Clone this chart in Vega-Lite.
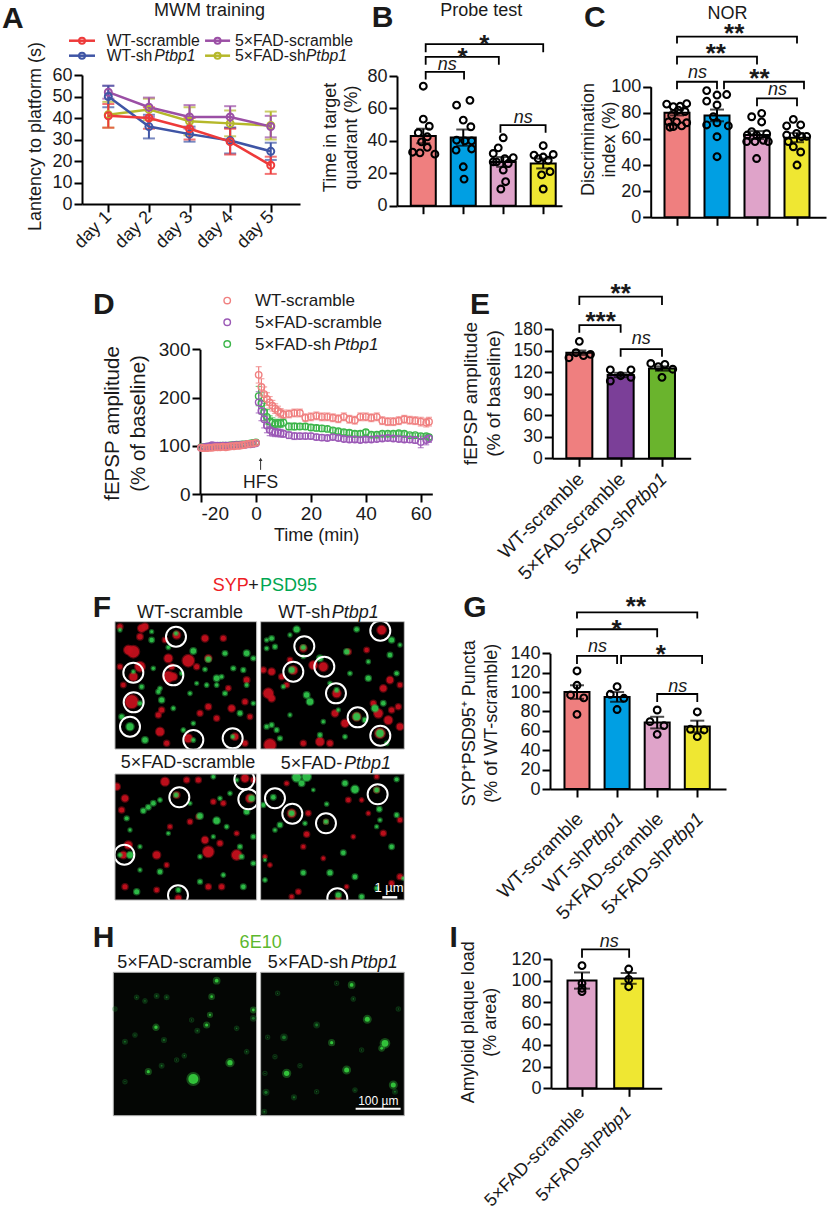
{"$schema":"https://vega.github.io/schema/vega-lite/v6.json","width":828,"height":1213,"padding":0,"autosize":{"type":"none"},"background":"white",
"config":{"view":{"stroke":null},"axis":{"grid":false,"domainColor":"black","domainWidth":2,"tickColor":"black","tickWidth":2,"tickSize":8,"labelColor":"#1a1a1a","labelFont":"Liberation Sans","labelFontSize":18,"labelPadding":2,"labelOverlap":false,"labelBound":false,"titleFont":"Liberation Sans","titleFontWeight":"normal","titleFontSize":18,"titleColor":"#1a1a1a","titleLineHeight":22},"text":{"font":"Liberation Sans","baseline":"alphabetic","align":"left","color":"#1a1a1a","fontSize":18}},
"resolve":{"scale":{"x":"independent","y":"independent","color":"independent","size":"independent","stroke":"independent"},"axis":{"x":"independent","y":"independent"}},
"datasets":{
"aS":[{"g":"O","x":1,"y":41.5,"e":6},{"g":"O","x":2,"y":44,"e":5},{"g":"O","x":3,"y":38.5,"e":6.5},{"g":"O","x":4,"y":37.5,"e":6},{"g":"O","x":5,"y":36.5,"e":6.5},{"g":"P","x":1,"y":52,"e":3},{"g":"P","x":2,"y":45,"e":4.5},{"g":"P","x":3,"y":40.5,"e":5.5},{"g":"P","x":4,"y":40.5,"e":5},{"g":"P","x":5,"y":36,"e":5},{"g":"B","x":1,"y":50,"e":5},{"g":"B","x":2,"y":36,"e":5.5},{"g":"B","x":3,"y":32.5,"e":3.5},{"g":"B","x":4,"y":29.5,"e":6},{"g":"B","x":5,"y":24.5,"e":4},{"g":"R","x":1,"y":41,"e":5.5},{"g":"R","x":2,"y":40,"e":5},{"g":"R","x":3,"y":35,"e":5},{"g":"R","x":4,"y":29,"e":6},{"g":"R","x":5,"y":18,"e":4}],
"aLL":[{"g":"R","x":0.032,"y":75.95},{"g":"R","x":0.672,"y":75.95},{"g":"B","x":0.032,"y":68.98},{"g":"B","x":0.672,"y":68.98},{"g":"P","x":3.382,"y":75.95},{"g":"P","x":3.998,"y":75.95},{"g":"O","x":3.382,"y":68.98},{"g":"O","x":3.998,"y":68.98}],
"aLP":[{"g":"R","x":0.352,"y":75.95},{"g":"B","x":0.352,"y":68.98},{"g":"P","x":3.69,"y":75.95},{"g":"O","x":3.69,"y":68.98}],
"aLT":[{"x":0.96,"y":73.6,"t":"WT-scramble"},{"x":0.96,"y":66.3,"t":"WT-sh"},{"x":4.12,"y":73.4,"t":"5×FAD-scramble"},{"x":4.12,"y":66.5,"t":"5×FAD-sh"}],
"aLI":[{"x":2.133,"y":66.3,"t":"Ptbp1"},{"x":5.862,"y":66.5,"t":"Ptbp1"}],
"aT":[{"x":3.49,"y":87.6,"t":"MWM training"}],"aL":[{"x":-1.618,"y":81.9,"t":"A"}],
"bB":[{"x":1,"y":43,"e":4.5,"g":"a"},{"x":2,"y":42,"e":5,"g":"b"},{"x":3,"y":27,"e":3,"g":"c"},{"x":4,"y":26,"e":3,"g":"d"}],
"bD":[{"x":1,"y":73.7},{"x":1,"y":53.4},{"x":1.15,"y":49},{"x":0.875,"y":45},{"x":1.1,"y":42.5},{"x":0.958,"y":39.4},{"x":0.733,"y":33},{"x":0.917,"y":32.6},{"x":1.1,"y":36},{"x":1.29,"y":31.8},{"x":2.167,"y":65},{"x":1.833,"y":62},{"x":2,"y":52.8},{"x":2.19,"y":48.7},{"x":1.833,"y":40.4},{"x":2.04,"y":40},{"x":2.21,"y":40},{"x":1.82,"y":34.3},{"x":2.21,"y":35},{"x":2,"y":24},{"x":2.02,"y":16.4},{"x":3,"y":41.9},{"x":2.875,"y":35.7},{"x":2.75,"y":32.2},{"x":3.25,"y":29.6},{"x":3.04,"y":29},{"x":2.83,"y":27},{"x":3.125,"y":26},{"x":3,"y":22},{"x":3.06,"y":14.8},{"x":2.94,"y":10.3},{"x":2.75,"y":27},{"x":4,"y":37},{"x":3.77,"y":31.2},{"x":4,"y":30},{"x":4.25,"y":31.6},{"x":4.125,"y":28},{"x":3.875,"y":29},{"x":4.17,"y":21},{"x":3.96,"y":19},{"x":4,"y":10.3}],
"bK":[{"b":1,"x":1.06,"y":77.8},{"b":1,"x":1.06,"y":82.5},{"b":1,"x":2.02,"y":82.5},{"b":1,"x":2.02,"y":77.8},{"b":2,"x":1.06,"y":87},{"b":2,"x":1.06,"y":91.8},{"b":2,"x":2.89,"y":91.8},{"b":2,"x":2.89,"y":87},{"b":3,"x":1.06,"y":94.7},{"b":3,"x":1.06,"y":99.6},{"b":3,"x":4,"y":99.6},{"b":3,"x":4,"y":94.7},{"b":4,"x":2.93,"y":45},{"b":4,"x":2.93,"y":49.7},{"b":4,"x":4.06,"y":49.7},{"b":4,"x":4.06,"y":45}],
"bN":[{"x":1.6,"y":83.6,"t":"ns"},{"x":3.5,"y":51,"t":"ns"}],"bS":[{"x":1.98,"y":86,"t":"*"},{"x":2.525,"y":94.2,"t":"*"}],
"bT":[{"x":2.45,"y":117.3,"t":"Probe test"}],"bL":[{"x":-0.29,"y":110.1,"t":"B"}],
"cB":[{"x":1,"y":80,"e":2,"g":"a"},{"x":2,"y":78,"e":4.5,"g":"b"},{"x":3,"y":63,"e":3,"g":"c"},{"x":4,"y":61,"e":3.5,"g":"d"}],
"cD":[{"x":0.742,"y":86.7},{"x":0.908,"y":84.7},{"x":1.075,"y":85},{"x":1.242,"y":87},{"x":0.867,"y":78},{"x":1.033,"y":82},{"x":1.2,"y":81},{"x":0.783,"y":73},{"x":0.99,"y":73},{"x":1.242,"y":72.4},{"x":0.908,"y":69.4},{"x":1.117,"y":70},{"x":0.825,"y":69},{"x":1.742,"y":97},{"x":2.242,"y":94},{"x":2,"y":93.6},{"x":1.742,"y":89},{"x":2,"y":86},{"x":1.908,"y":77},{"x":1.742,"y":70.7},{"x":2,"y":72.4},{"x":2.283,"y":70},{"x":2,"y":61.7},{"x":2,"y":46.4},{"x":3.117,"y":79.6},{"x":2.867,"y":77},{"x":3.117,"y":73},{"x":2.867,"y":65.6},{"x":3.242,"y":64},{"x":2.758,"y":63},{"x":2.99,"y":63},{"x":2.742,"y":58},{"x":2.95,"y":58},{"x":3.158,"y":59},{"x":3.283,"y":58},{"x":2.99,"y":45},{"x":3.908,"y":75},{"x":3.742,"y":70},{"x":4.092,"y":70.7},{"x":3.742,"y":63},{"x":3.99,"y":64.3},{"x":4.242,"y":62},{"x":4.117,"y":61.7},{"x":3.783,"y":58},{"x":3.908,"y":54},{"x":4.092,"y":50},{"x":4,"y":40}],
"cK":[{"b":1,"x":1,"y":98},{"b":1,"x":1,"y":103.8},{"b":1,"x":2,"y":103.8},{"b":1,"x":2,"y":98},{"b":2,"x":1,"y":117},{"b":2,"x":1,"y":123},{"b":2,"x":3,"y":123},{"b":2,"x":3,"y":117},{"b":3,"x":1,"y":133},{"b":3,"x":1,"y":138.3},{"b":3,"x":4,"y":138.3},{"b":3,"x":4,"y":133},{"b":4,"x":2.175,"y":98},{"b":4,"x":2.175,"y":103.8},{"b":4,"x":4.175,"y":103.8},{"b":4,"x":4.175,"y":98},{"b":5,"x":3,"y":85},{"b":5,"x":3,"y":91},{"b":5,"x":4,"y":91},{"b":5,"x":4,"y":85}],
"cN":[{"x":1.51,"y":107,"t":"ns"},{"x":3.51,"y":93.4,"t":"ns"}],"cS":[{"x":1.97,"y":119,"t":"**"},{"x":2.43,"y":134.5,"t":"**"},{"x":3.06,"y":100,"t":"**"}],
"cT":[{"x":2.26,"y":151.8,"t":"NOR"}],"cL":[{"x":-1.325,"y":145.4,"t":"C"}],
"dS":[
{"g":"G","x":-20,"y":97,"e":3},{"g":"G","x":-19,"y":97,"e":3},{"g":"G","x":-18,"y":98,"e":3},{"g":"G","x":-17,"y":98,"e":3},{"g":"G","x":-16,"y":99,"e":3},{"g":"G","x":-15,"y":99,"e":3},{"g":"G","x":-14,"y":99,"e":3},{"g":"G","x":-13,"y":100,"e":3},{"g":"G","x":-12,"y":100,"e":3},{"g":"G","x":-11,"y":100,"e":3},{"g":"G","x":-10,"y":100,"e":3},{"g":"G","x":-9,"y":101,"e":3},{"g":"G","x":-8,"y":101,"e":3},{"g":"G","x":-7,"y":102,"e":3},{"g":"G","x":-6,"y":102,"e":3},{"g":"G","x":-5,"y":103,"e":3},{"g":"G","x":-4,"y":103,"e":3},{"g":"G","x":-3,"y":104,"e":3},{"g":"G","x":-2,"y":105,"e":3},{"g":"G","x":-1,"y":106,"e":3},{"g":"G","x":0,"y":107,"e":4},{"g":"G","x":1,"y":203,"e":20},{"g":"G","x":2,"y":188,"e":22},{"g":"G","x":3,"y":170,"e":18},{"g":"G","x":4,"y":160,"e":15},{"g":"G","x":5,"y":150,"e":12},{"g":"G","x":6,"y":148,"e":10},{"g":"G","x":7,"y":145,"e":9},{"g":"G","x":8,"y":147,"e":8},{"g":"G","x":9,"y":146,"e":8},{"g":"G","x":10,"y":148,"e":7},{"g":"G","x":12,"y":140,"e":7},{"g":"G","x":14,"y":140,"e":7},{"g":"G","x":16,"y":140,"e":6},{"g":"G","x":18,"y":140,"e":6},{"g":"G","x":20,"y":138,"e":6},{"g":"G","x":22,"y":137,"e":6},{"g":"G","x":24,"y":136,"e":6},{"g":"G","x":26,"y":135,"e":5},{"g":"G","x":28,"y":132,"e":5},{"g":"G","x":30,"y":130,"e":5},{"g":"G","x":32,"y":128,"e":5},{"g":"G","x":34,"y":127,"e":5},{"g":"G","x":36,"y":125,"e":5},{"g":"G","x":38,"y":125,"e":5},{"g":"G","x":40,"y":128,"e":5},{"g":"G","x":42,"y":123,"e":4},{"g":"G","x":44,"y":123,"e":4},{"g":"G","x":46,"y":125,"e":4},{"g":"G","x":48,"y":125,"e":4},{"g":"G","x":50,"y":125,"e":4},{"g":"G","x":52,"y":126,"e":4},{"g":"G","x":54,"y":125,"e":4},{"g":"G","x":56,"y":122,"e":4},{"g":"G","x":58,"y":122,"e":4},{"g":"G","x":60,"y":120,"e":5},{"g":"G","x":62,"y":120,"e":5},{"g":"G","x":63,"y":118,"e":5},
{"g":"P","x":-20,"y":96,"e":3},{"g":"P","x":-19,"y":97,"e":3},{"g":"P","x":-18,"y":98,"e":3},{"g":"P","x":-17,"y":99,"e":3},{"g":"P","x":-16,"y":101,"e":3},{"g":"P","x":-15,"y":100,"e":3},{"g":"P","x":-14,"y":100,"e":3},{"g":"P","x":-13,"y":99,"e":3},{"g":"P","x":-12,"y":100,"e":3},{"g":"P","x":-11,"y":100,"e":3},{"g":"P","x":-10,"y":100,"e":3},{"g":"P","x":-9,"y":100,"e":3},{"g":"P","x":-8,"y":101,"e":3},{"g":"P","x":-7,"y":101,"e":3},{"g":"P","x":-6,"y":101,"e":3},{"g":"P","x":-5,"y":102,"e":3},{"g":"P","x":-4,"y":102,"e":3},{"g":"P","x":-3,"y":103,"e":3},{"g":"P","x":-2,"y":103,"e":3},{"g":"P","x":-1,"y":104,"e":3},{"g":"P","x":0,"y":105,"e":4},{"g":"P","x":1,"y":190,"e":22},{"g":"P","x":2,"y":172,"e":20},{"g":"P","x":3,"y":155,"e":18},{"g":"P","x":4,"y":142,"e":15},{"g":"P","x":5,"y":133,"e":12},{"g":"P","x":6,"y":130,"e":10},{"g":"P","x":7,"y":128,"e":9},{"g":"P","x":8,"y":127,"e":8},{"g":"P","x":9,"y":126,"e":8},{"g":"P","x":10,"y":125,"e":7},{"g":"P","x":12,"y":122,"e":7},{"g":"P","x":14,"y":120,"e":7},{"g":"P","x":16,"y":120,"e":6},{"g":"P","x":18,"y":120,"e":6},{"g":"P","x":20,"y":120,"e":6},{"g":"P","x":22,"y":118,"e":6},{"g":"P","x":24,"y":117,"e":6},{"g":"P","x":26,"y":116,"e":5},{"g":"P","x":28,"y":118,"e":5},{"g":"P","x":30,"y":116,"e":5},{"g":"P","x":32,"y":114,"e":5},{"g":"P","x":34,"y":113,"e":5},{"g":"P","x":36,"y":113,"e":5},{"g":"P","x":38,"y":112,"e":5},{"g":"P","x":40,"y":113,"e":5},{"g":"P","x":42,"y":113,"e":5},{"g":"P","x":44,"y":114,"e":5},{"g":"P","x":46,"y":115,"e":5},{"g":"P","x":48,"y":116,"e":5},{"g":"P","x":50,"y":115,"e":5},{"g":"P","x":52,"y":114,"e":5},{"g":"P","x":54,"y":113,"e":5},{"g":"P","x":56,"y":113,"e":6},{"g":"P","x":58,"y":112,"e":7},{"g":"P","x":60,"y":108,"e":12},{"g":"P","x":62,"y":112,"e":10},{"g":"P","x":63,"y":115,"e":8},
{"g":"W","x":-20,"y":96,"e":4},{"g":"W","x":-19,"y":95,"e":4},{"g":"W","x":-18,"y":95,"e":4},{"g":"W","x":-17,"y":96,"e":4},{"g":"W","x":-16,"y":96,"e":4},{"g":"W","x":-15,"y":97,"e":4},{"g":"W","x":-14,"y":97,"e":4},{"g":"W","x":-13,"y":97,"e":4},{"g":"W","x":-12,"y":98,"e":4},{"g":"W","x":-11,"y":97,"e":4},{"g":"W","x":-10,"y":98,"e":4},{"g":"W","x":-9,"y":99,"e":4},{"g":"W","x":-8,"y":99,"e":4},{"g":"W","x":-7,"y":100,"e":4},{"g":"W","x":-6,"y":100,"e":4},{"g":"W","x":-5,"y":101,"e":4},{"g":"W","x":-4,"y":102,"e":4},{"g":"W","x":-3,"y":104,"e":4},{"g":"W","x":-2,"y":104,"e":4},{"g":"W","x":-1,"y":105,"e":4},{"g":"W","x":0,"y":106,"e":4},{"g":"W","x":1,"y":247,"e":17},{"g":"W","x":2,"y":222,"e":17},{"g":"W","x":3,"y":207,"e":15},{"g":"W","x":4,"y":197,"e":13},{"g":"W","x":5,"y":190,"e":12},{"g":"W","x":6,"y":183,"e":11},{"g":"W","x":7,"y":177,"e":10},{"g":"W","x":8,"y":172,"e":10},{"g":"W","x":9,"y":168,"e":9},{"g":"W","x":10,"y":165,"e":9},{"g":"W","x":12,"y":166,"e":8},{"g":"W","x":14,"y":168,"e":8},{"g":"W","x":16,"y":168,"e":8},{"g":"W","x":18,"y":158,"e":8},{"g":"W","x":20,"y":160,"e":8},{"g":"W","x":22,"y":162,"e":8},{"g":"W","x":24,"y":160,"e":8},{"g":"W","x":26,"y":160,"e":8},{"g":"W","x":28,"y":158,"e":8},{"g":"W","x":30,"y":156,"e":8},{"g":"W","x":32,"y":160,"e":8},{"g":"W","x":34,"y":155,"e":8},{"g":"W","x":36,"y":153,"e":8},{"g":"W","x":38,"y":160,"e":8},{"g":"W","x":40,"y":160,"e":8},{"g":"W","x":42,"y":158,"e":8},{"g":"W","x":44,"y":160,"e":8},{"g":"W","x":46,"y":152,"e":8},{"g":"W","x":48,"y":150,"e":8},{"g":"W","x":50,"y":150,"e":8},{"g":"W","x":52,"y":152,"e":8},{"g":"W","x":54,"y":155,"e":8},{"g":"W","x":56,"y":153,"e":8},{"g":"W","x":58,"y":152,"e":8},{"g":"W","x":60,"y":150,"e":9},{"g":"W","x":62,"y":148,"e":9},{"g":"W","x":63,"y":150,"e":9}],
"dLP":[{"g":"W","x":-10.45,"y":401},{"g":"P","x":-10.45,"y":356},{"g":"G","x":-10.45,"y":311}],
"dLT":[{"x":-0.36,"y":390,"t":"WT-scramble"},{"x":-0.36,"y":344,"t":"5×FAD-scramble"},{"x":-0.36,"y":299.4,"t":"5×FAD-sh"}],
"dLI":[{"x":28.4,"y":299.4,"t":"Ptbp1"}],
"dH":[{"x":1.7,"y":11.8,"t":"HFS"}],"dA":[{"x":1.7,"y":50},{"x":1.7,"y":72}],"dAH":[{"x":1.7,"y":72}],
"dL":[{"x":-59.3,"y":372.8,"t":"D"}],
"eB":[{"x":1,"y":147,"e":3,"g":"a"},{"x":2,"y":116,"e":3,"g":"b"},{"x":3,"y":125,"e":3,"g":"c"}],
"eD":[{"x":1,"y":162.8},{"x":0.92,"y":147},{"x":0.75,"y":140},{"x":1.1,"y":143},{"x":1.27,"y":144.7},{"x":1.75,"y":123},{"x":2.25,"y":123},{"x":2,"y":115},{"x":1.75,"y":107.6},{"x":2.25,"y":112.7},{"x":2.73,"y":132},{"x":3.07,"y":130.8},{"x":2.91,"y":127.5},{"x":3.26,"y":124},{"x":3,"y":112.7}],
"eK":[{"b":1,"x":1,"y":174.9},{"b":1,"x":1,"y":185.5},{"b":1,"x":2,"y":185.5},{"b":1,"x":2,"y":174.9},{"b":2,"x":1,"y":213.4},{"b":2,"x":1,"y":225},{"b":2,"x":3,"y":225},{"b":2,"x":3,"y":213.4},{"b":3,"x":2,"y":141.5},{"b":3,"x":2,"y":152},{"b":3,"x":3,"y":152},{"b":3,"x":3,"y":141.5}],
"eN":[{"x":2.5,"y":159,"t":"ns"}],"eS":[{"x":1.516,"y":179,"t":"***"},{"x":2,"y":217,"t":"**"}],
"eL":[{"x":-1.646,"y":200.4,"t":"E"}],
"eP":[{"x":1.04,"y":-25,"t":"WT-scramble"},{"x":2.04,"y":-25,"t":"5×FAD-scramble"}],"eQ":[{"x":3.04,"y":-25,"t":"5×FAD-sh"}],"eR":[{"x":3.04,"y":-25,"t":"Ptbp1"}],
"gB":[{"x":1,"y":100,"e":7,"g":"a"},{"x":2,"y":95,"e":5,"g":"b"},{"x":3,"y":68.5,"e":6,"g":"c"},{"x":4,"y":64.5,"e":6,"g":"d"}],
"gD":[{"x":1,"y":121.8},{"x":1,"y":107},{"x":0.84,"y":97},{"x":1.17,"y":94},{"x":1,"y":77},{"x":2,"y":105.6},{"x":1.83,"y":97.7},{"x":2.17,"y":93.6},{"x":2,"y":82},{"x":3,"y":81.5},{"x":2.82,"y":69.5},{"x":3.17,"y":65.4},{"x":3,"y":56.4},{"x":4,"y":79.5},{"x":3.83,"y":61.6},{"x":4.17,"y":60.9},{"x":4,"y":54}],
"gK":[{"b":1,"x":1,"y":129},{"b":1,"x":1,"y":137.3},{"b":1,"x":2,"y":137.3},{"b":1,"x":2,"y":129},{"b":2,"x":1,"y":156.5},{"b":2,"x":1,"y":164.8},{"b":2,"x":3,"y":164.8},{"b":2,"x":3,"y":156.5},{"b":3,"x":1,"y":176},{"b":3,"x":1,"y":182.3},{"b":3,"x":4,"y":182.3},{"b":3,"x":4,"y":176},{"b":4,"x":2.1,"y":129},{"b":4,"x":2.1,"y":137.3},{"b":4,"x":4.12,"y":137.3},{"b":4,"x":4.12,"y":129},{"b":5,"x":3,"y":89.8},{"b":5,"x":3,"y":98},{"b":5,"x":4,"y":98},{"b":5,"x":4,"y":89.8}],
"gN":[{"x":1.51,"y":141,"t":"ns"},{"x":3.51,"y":100.4,"t":"ns"}],"gS":[{"x":1.99,"y":155.5,"t":"*"},{"x":2.47,"y":180,"t":"**"},{"x":3.09,"y":130.4,"t":"*"}],
"gL":[{"x":-1.835,"y":177.8,"t":"G"}],
"gP":[{"x":1.075,"y":-28,"t":"WT-scramble"},{"x":3.075,"y":-28,"t":"5×FAD-scramble"}],"gQ":[{"x":2.075,"y":-28,"t":"WT-sh"},{"x":4.075,"y":-28,"t":"5×FAD-sh"}],"gR":[{"x":2.075,"y":-28,"t":"Ptbp1"},{"x":4.075,"y":-28,"t":"Ptbp1"}],
"iB":[{"x":1,"y":100,"e":7.5,"g":"a"},{"x":2,"y":102,"e":5,"g":"b"}],
"iD":[{"x":1,"y":113.8},{"x":1,"y":97.4},{"x":1,"y":92.8},{"x":1,"y":89.7},{"x":2,"y":110.7},{"x":2,"y":101},{"x":2,"y":94.3}],
"iK":[{"b":1,"x":1,"y":121.2},{"b":1,"x":1,"y":129},{"b":1,"x":2.01,"y":129},{"b":1,"x":2.01,"y":121.2}],
"iN":[{"x":1.586,"y":130.8,"t":"ns"}],"iL":[{"x":-1.84,"y":131.4,"t":"I"}],
"iP":[{"x":1,"y":-20,"t":"5×FAD-scramble"}],"iQ":[{"x":2,"y":-20,"t":"5×FAD-sh"}],"iR":[{"x":2,"y":-20,"t":"Ptbp1"}],
"fR":[{"x":75,"x2":500,"y":155,"y2":537},{"x":512,"x2":943,"y":155,"y2":537},{"x":75,"x2":500,"y":612,"y2":990},{"x":512,"x2":943,"y":612,"y2":990}],
"fM":[{"x":40,"x2":970,"y":537,"y2":612},{"x":500,"x2":512,"y":130,"y2":1000},{"x":40,"x2":970,"y":990,"y2":1010},{"x":40,"x2":970,"y":130,"y2":155},{"x":943,"x2":970,"y":130,"y2":1010},{"x":40,"x2":75,"y":130,"y2":1010}],
"fP":[
{"x":130,"y":245,"c":"S","a":130},{"x":155,"y":175,"c":"S","a":50},{"x":115,"y":240,"c":"S","a":70},{"x":345,"y":205,"c":"S","a":40},{"x":400,"y":205,"c":"S","a":25},{"x":295,"y":272,"c":"S","a":130},{"x":235,"y":265,"c":"S","a":60},{"x":355,"y":265,"c":"S","a":40},{"x":320,"y":290,"c":"S","a":25},{"x":150,"y":290,"c":"S","a":90},{"x":130,"y":320,"c":"S","a":60},{"x":235,"y":320,"c":"S","a":110},{"x":125,"y":395,"c":"S","a":160},{"x":210,"y":485,"c":"S","a":60},{"x":355,"y":410,"c":"S","a":30},{"x":425,"y":415,"c":"S","a":40},{"x":330,"y":430,"c":"S","a":25},{"x":470,"y":330,"c":"S","a":30},{"x":465,"y":395,"c":"S","a":25},{"x":230,"y":520,"c":"S","a":25},{"x":150,"y":200,"c":"S","a":30},{"x":90,"y":170,"c":"S","a":25},{"x":225,"y":210,"c":"S","a":20},{"x":260,"y":195,"c":"S","a":50},{"x":295,"y":505,"c":"S","a":60},{"x":415,"y":355,"c":"S","a":20},{"x":380,"y":445,"c":"S","a":25},{"x":205,"y":435,"c":"S","a":25},{"x":100,"y":345,"c":"S","a":20},{"x":250,"y":320,"c":"S","a":50},{"x":435,"y":500,"c":"S","a":40},{"x":165,"y":170,"c":"S","a":40},{"x":465,"y":520,"c":"S","a":25},{"x":245,"y":290,"c":"S","a":25},{"x":90,"y":290,"c":"S","a":20},{"x":215,"y":420,"c":"S","a":25},{"x":480,"y":440,"c":"S","a":20},
{"x":875,"y":180,"c":"S","a":70},{"x":640,"y":235,"c":"S","a":40},{"x":700,"y":290,"c":"S","a":70},{"x":610,"y":300,"c":"S","a":60},{"x":670,"y":285,"c":"S","a":60},{"x":740,"y":370,"c":"S","a":60},{"x":535,"y":370,"c":"S","a":90},{"x":545,"y":385,"c":"S","a":40},{"x":575,"y":320,"c":"S","a":25},{"x":800,"y":440,"c":"S","a":60},{"x":735,"y":430,"c":"S","a":40},{"x":765,"y":460,"c":"S","a":50},{"x":865,"y":430,"c":"S","a":70},{"x":895,"y":450,"c":"S","a":60},{"x":870,"y":490,"c":"S","a":90},{"x":905,"y":420,"c":"S","a":25},{"x":540,"y":525,"c":"S","a":130},{"x":690,"y":515,"c":"S","a":60},{"x":720,"y":520,"c":"S","a":30},{"x":880,"y":355,"c":"S","a":40},{"x":900,"y":330,"c":"S","a":40},{"x":775,"y":245,"c":"S","a":25},{"x":830,"y":240,"c":"S","a":20},{"x":520,"y":300,"c":"S","a":25},{"x":600,"y":270,"c":"S","a":20},{"x":545,"y":305,"c":"S","a":40},{"x":640,"y":520,"c":"S","a":25},{"x":590,"y":345,"c":"S","a":20},{"x":930,"y":345,"c":"S","a":20},{"x":850,"y":400,"c":"S","a":25},{"x":925,"y":410,"c":"S","a":25},{"x":930,"y":470,"c":"S","a":40},
{"x":225,"y":635,"c":"S","a":60},{"x":290,"y":630,"c":"S","a":25},{"x":325,"y":630,"c":"S","a":25},{"x":465,"y":625,"c":"S","a":50},{"x":480,"y":685,"c":"S","a":60},{"x":80,"y":650,"c":"S","a":40},{"x":105,"y":685,"c":"S","a":40},{"x":260,"y":675,"c":"S","a":30},{"x":355,"y":845,"c":"S","a":110},{"x":440,"y":855,"c":"S","a":90},{"x":345,"y":810,"c":"S","a":40},{"x":390,"y":820,"c":"S","a":25},{"x":200,"y":855,"c":"S","a":50},{"x":100,"y":855,"c":"S","a":40},{"x":400,"y":700,"c":"S","a":20},{"x":370,"y":695,"c":"S","a":20},{"x":490,"y":630,"c":"S","a":20},{"x":105,"y":950,"c":"S","a":25},{"x":265,"y":985,"c":"S","a":30},{"x":395,"y":950,"c":"S","a":25},{"x":355,"y":950,"c":"S","a":25},{"x":240,"y":770,"c":"S","a":15},{"x":300,"y":755,"c":"S","a":20},{"x":440,"y":790,"c":"S","a":15},{"x":115,"y":825,"c":"S","a":50},{"x":200,"y":960,"c":"S","a":20},{"x":230,"y":885,"c":"S","a":15},{"x":95,"y":720,"c":"S","a":25},{"x":325,"y":740,"c":"S","a":15},
{"x":860,"y":660,"c":"S","a":25},{"x":605,"y":730,"c":"S","a":60},{"x":655,"y":730,"c":"S","a":20},{"x":708,"y":755,"c":"S","a":15},{"x":775,"y":690,"c":"S","a":20},{"x":650,"y":793,"c":"S","a":25},{"x":880,"y":790,"c":"S","a":25},{"x":930,"y":750,"c":"S","a":20},{"x":860,"y":620,"c":"S","a":15},{"x":590,"y":640,"c":"S","a":15},{"x":640,"y":830,"c":"S","a":15},{"x":525,"y":860,"c":"S","a":12},{"x":540,"y":885,"c":"S","a":12},{"x":930,"y":920,"c":"S","a":25},{"x":905,"y":940,"c":"S","a":20},{"x":745,"y":985,"c":"S","a":20},{"x":625,"y":965,"c":"S","a":20},{"x":605,"y":980,"c":"S","a":15},{"x":835,"y":730,"c":"S","a":12},{"x":815,"y":690,"c":"S","a":12},{"x":790,"y":800,"c":"S","a":12},{"x":700,"y":865,"c":"S","a":12},{"x":770,"y":950,"c":"S","a":12},
{"x":258,"y":190,"c":"G","a":12},{"x":185,"y":210,"c":"G","a":20},{"x":235,"y":232,"c":"G","a":12},{"x":310,"y":243,"c":"G","a":30},{"x":355,"y":268,"c":"G","a":25},{"x":405,"y":250,"c":"G","a":20},{"x":470,"y":250,"c":"G","a":30},{"x":460,"y":300,"c":"G","a":15},{"x":430,"y":295,"c":"G","a":15},{"x":380,"y":325,"c":"G","a":30},{"x":395,"y":320,"c":"G","a":12},{"x":345,"y":298,"c":"G","a":12},{"x":205,"y":365,"c":"G","a":15},{"x":215,"y":390,"c":"G","a":25},{"x":130,"y":305,"c":"G","a":8},{"x":155,"y":350,"c":"G","a":15},{"x":150,"y":400,"c":"G","a":15},{"x":120,"y":470,"c":"G","a":50},{"x":95,"y":440,"c":"G","a":20},{"x":165,"y":510,"c":"G","a":30},{"x":280,"y":480,"c":"G","a":12},{"x":310,"y":510,"c":"G","a":12},{"x":310,"y":460,"c":"G","a":10},{"x":428,"y":500,"c":"G","a":10},{"x":450,"y":430,"c":"G","a":20},{"x":490,"y":400,"c":"G","a":10},{"x":350,"y":345,"c":"G","a":12},{"x":380,"y":345,"c":"G","a":12},{"x":405,"y":370,"c":"G","a":15},{"x":300,"y":370,"c":"G","a":10},{"x":190,"y":295,"c":"G","a":10},{"x":210,"y":355,"c":"G","a":12},{"x":275,"y":310,"c":"G","a":10},{"x":470,"y":345,"c":"G","a":12},{"x":250,"y":415,"c":"G","a":12},{"x":320,"y":340,"c":"G","a":8},{"x":185,"y":185,"c":"G","a":8},{"x":90,"y":180,"c":"G","a":8},{"x":490,"y":265,"c":"G","a":15},
{"x":620,"y":178,"c":"G","a":35},{"x":800,"y":178,"c":"G","a":20},{"x":905,"y":210,"c":"G","a":25},{"x":545,"y":205,"c":"G","a":20},{"x":530,"y":235,"c":"G","a":12},{"x":555,"y":230,"c":"G","a":15},{"x":640,"y":232,"c":"G","a":20},{"x":690,"y":265,"c":"G","a":30},{"x":605,"y":300,"c":"G","a":30},{"x":770,"y":245,"c":"G","a":25},{"x":900,"y":255,"c":"G","a":20},{"x":920,"y":310,"c":"G","a":15},{"x":835,"y":325,"c":"G","a":25},{"x":780,"y":310,"c":"G","a":12},{"x":650,"y":375,"c":"G","a":30},{"x":660,"y":395,"c":"G","a":40},{"x":740,"y":360,"c":"G","a":15},{"x":800,"y":440,"c":"G","a":45},{"x":855,"y":415,"c":"G","a":40},{"x":880,"y":400,"c":"G","a":20},{"x":825,"y":450,"c":"G","a":20},{"x":870,"y":490,"c":"G","a":50},{"x":600,"y":435,"c":"G","a":8},{"x":530,"y":470,"c":"G","a":15},{"x":560,"y":480,"c":"G","a":15},{"x":545,"y":465,"c":"G","a":15},{"x":700,"y":455,"c":"G","a":10},{"x":690,"y":495,"c":"G","a":15},{"x":570,"y":505,"c":"G","a":15},{"x":890,"y":520,"c":"G","a":12},{"x":765,"y":500,"c":"G","a":12},{"x":640,"y":260,"c":"G","a":8},{"x":530,"y":210,"c":"G","a":10},{"x":600,"y":195,"c":"G","a":8},{"x":930,"y":225,"c":"G","a":8},{"x":745,"y":420,"c":"G","a":8},{"x":580,"y":350,"c":"G","a":10},{"x":835,"y":275,"c":"G","a":10},{"x":720,"y":340,"c":"G","a":10},
{"x":175,"y":712,"c":"G","a":20},{"x":190,"y":700,"c":"G","a":20},{"x":160,"y":722,"c":"G","a":20},{"x":210,"y":690,"c":"G","a":12},{"x":258,"y":675,"c":"G","a":15},{"x":330,"y":738,"c":"G","a":30},{"x":380,"y":752,"c":"G","a":40},{"x":410,"y":770,"c":"G","a":12},{"x":470,"y":725,"c":"G","a":25},{"x":390,"y":685,"c":"G","a":10},{"x":420,"y":670,"c":"G","a":10},{"x":370,"y":620,"c":"G","a":12},{"x":110,"y":745,"c":"G","a":15},{"x":120,"y":855,"c":"G","a":35},{"x":90,"y":855,"c":"G","a":12},{"x":485,"y":685,"c":"G","a":30},{"x":450,"y":830,"c":"G","a":15},{"x":455,"y":860,"c":"G","a":15},{"x":490,"y":880,"c":"G","a":15},{"x":490,"y":800,"c":"G","a":15},{"x":210,"y":905,"c":"G","a":20},{"x":140,"y":965,"c":"G","a":25},{"x":265,"y":960,"c":"G","a":15},{"x":330,"y":935,"c":"G","a":15},{"x":330,"y":860,"c":"G","a":10},{"x":400,"y":915,"c":"G","a":12},{"x":460,"y":950,"c":"G","a":20},{"x":120,"y":780,"c":"G","a":8},{"x":300,"y":700,"c":"G","a":8},{"x":235,"y":790,"c":"G","a":8},{"x":150,"y":830,"c":"G","a":8},{"x":150,"y":900,"c":"G","a":8},{"x":440,"y":630,"c":"G","a":10},{"x":370,"y":800,"c":"G","a":8},
{"x":620,"y":622,"c":"G","a":70},{"x":650,"y":620,"c":"G","a":70},{"x":635,"y":640,"c":"G","a":30},{"x":795,"y":658,"c":"G","a":50},{"x":765,"y":640,"c":"G","a":25},{"x":920,"y":628,"c":"G","a":15},{"x":860,"y":660,"c":"G","a":20},{"x":550,"y":682,"c":"G","a":20},{"x":605,"y":730,"c":"G","a":25},{"x":708,"y":755,"c":"G","a":15},{"x":710,"y":702,"c":"G","a":10},{"x":570,"y":765,"c":"G","a":20},{"x":645,"y":760,"c":"G","a":10},{"x":868,"y":718,"c":"G","a":20},{"x":920,"y":735,"c":"G","a":15},{"x":870,"y":750,"c":"G","a":10},{"x":520,"y":705,"c":"G","a":15},{"x":555,"y":780,"c":"G","a":10},{"x":905,"y":830,"c":"G","a":20},{"x":760,"y":848,"c":"G","a":20},{"x":720,"y":908,"c":"G","a":25},{"x":640,"y":908,"c":"G","a":20},{"x":795,"y":920,"c":"G","a":20},{"x":525,"y":930,"c":"G","a":12},{"x":745,"y":975,"c":"G","a":25},{"x":860,"y":955,"c":"G","a":12},{"x":815,"y":980,"c":"G","a":20},{"x":940,"y":925,"c":"G","a":8},{"x":860,"y":770,"c":"G","a":8},{"x":525,"y":870,"c":"G","a":6},{"x":670,"y":660,"c":"G","a":6}],
"fC":[{"x":258,"y":200},{"x":130,"y":308},{"x":250,"y":316},{"x":131,"y":397},{"x":120,"y":470},{"x":310,"y":510},{"x":428,"y":505},{"x":871,"y":182},{"x":643,"y":229},{"x":610,"y":305},{"x":703,"y":290},{"x":738,"y":370},{"x":803,"y":442},{"x":871,"y":497},{"x":463,"y":628},{"x":268,"y":682},{"x":475,"y":688},{"x":103,"y":854},{"x":264,"y":976},{"x":555,"y":685},{"x":607,"y":731},{"x":708,"y":760},{"x":863,"y":673},{"x":742,"y":985}],
"fT":[{"x":300,"y":145,"t":"WT-scramble"},{"x":294,"y":595,"t":"5×FAD-scramble"}],
"fA":[{"x":565,"y":145,"t":"WT-sh"},{"x":572,"y":597,"t":"5×FAD-"}],"fI":[{"x":725,"y":145,"t":"Ptbp1"},{"x":762,"y":597,"t":"Ptbp1"}],
"fRd":[{"x":368,"y":62,"t":"SYP"}],"fPl":[{"x":475,"y":62,"t":"+"}],"fGr":[{"x":510,"y":62,"t":"PSD95"}],
"fSc":[{"x":897,"y":965,"t":"1 µm"}],"fSb":[{"x":877,"y":982,"k":1},{"x":922,"y":982,"k":1}],"fL":[{"x":8,"y":140,"t":"F"}],
"hR":[{"x":70,"x2":500,"y":157,"y2":587},{"x":512,"x2":943,"y":157,"y2":587}],
"hP":[{"x":380,"y":182,"c":"b","a":14},{"x":365,"y":230,"c":"b","a":7},{"x":140,"y":232,"c":"d","a":3},{"x":200,"y":228,"c":"d","a":4},{"x":230,"y":232,"c":"d","a":4},{"x":165,"y":243,"c":"d","a":3},{"x":490,"y":270,"c":"b","a":8},{"x":490,"y":295,"c":"d","a":8},{"x":360,"y":285,"c":"b","a":5},{"x":350,"y":315,"c":"b","a":10},{"x":322,"y":332,"c":"d","a":4},{"x":305,"y":300,"c":"d","a":2},{"x":198,"y":322,"c":"b","a":12},{"x":222,"y":360,"c":"d","a":5},{"x":135,"y":345,"c":"d","a":3},{"x":105,"y":365,"c":"d","a":4},{"x":283,"y":407,"c":"d","a":3},{"x":260,"y":420,"c":"d","a":2},{"x":420,"y":428,"c":"b","a":28},{"x":175,"y":455,"c":"b","a":10},{"x":215,"y":437,"c":"d","a":4},{"x":310,"y":477,"c":"b","a":100},{"x":440,"y":325,"c":"d","a":3},{"x":470,"y":395,"c":"d","a":3},{"x":105,"y":485,"c":"d","a":2},{"x":75,"y":267,"c":"d","a":2},
{"x":785,"y":195,"c":"b","a":14},{"x":790,"y":237,"c":"d","a":3},{"x":563,"y":220,"c":"d","a":2},{"x":680,"y":315,"c":"d","a":8},{"x":832,"y":298,"c":"b","a":25},{"x":582,"y":352,"c":"d","a":14},{"x":533,"y":352,"c":"d","a":2},{"x":725,"y":368,"c":"b","a":10},{"x":885,"y":370,"c":"b","a":45},{"x":875,"y":385,"c":"b","a":8},{"x":770,"y":450,"c":"b","a":25},{"x":590,"y":460,"c":"b","a":28},{"x":910,"y":495,"c":"b","a":25},{"x":915,"y":515,"c":"d","a":4},{"x":525,"y":460,"c":"d","a":2},{"x":528,"y":517,"c":"d","a":10},{"x":612,"y":532,"c":"d","a":5},{"x":680,"y":515,"c":"d","a":2},{"x":795,"y":510,"c":"d","a":3},{"x":523,"y":575,"c":"d","a":4},{"x":925,"y":267,"c":"d","a":2},{"x":555,"y":410,"c":"d","a":2},{"x":630,"y":437,"c":"d","a":2},{"x":815,"y":390,"c":"d","a":2},{"x":740,"y":190,"c":"d","a":2}],
"hT":[{"x":82,"y":143,"t":"5×FAD-scramble"},{"x":533,"y":143,"t":"5×FAD-sh"}],"hI":[{"x":782,"y":143,"t":"Ptbp1"}],"hG":[{"x":512,"y":85,"t":"6E10"}],"hS":[{"x":865,"y":556,"t":"100 µm"}],"hB":[{"x":797,"y":566},{"x":932,"y":566}],"hL":[{"x":8,"y":80,"t":"H"}]
},
"layer":[
{"encoding":{"x":{"field":"x","type":"quantitative","scale":{"domain":[0.352,5.72],"range":[82,300]},"axis":{"orient":"bottom","offset":-1009,"values":[1,2,3,4,5],"labelExpr":"'day '+datum.value","labelAngle":-45,"labelAlign":"right","labelBaseline":"middle","title":null}},"y":{"field":"y","type":"quantitative","scale":{"domain":[0,60],"range":[204,75]},"axis":{"orient":"left","offset":-82,"values":[0,10,20,30,40,50,60],"title":"Lantency to platform (s)","titleX":-38,"titleY":136}}},
"layer":[
{"encoding":{"color":{"field":"g","type":"nominal","legend":null,"scale":{"domain":["O","P","B","R"],"range":["#b5b82a","#9b4fa5","#3f55a5","#ee3a3a"]}}},"layer":[
{"data":{"name":"aS"},"mark":{"type":"errorbar","ticks":{"size":12,"thickness":2},"rule":{"strokeWidth":2}},"encoding":{"yError":{"field":"e"}}},
{"data":{"name":"aS"},"mark":{"type":"line","strokeWidth":2.5}},
{"data":{"name":"aS"},"mark":{"type":"point","filled":false,"opacity":1,"size":49,"strokeWidth":2}},
{"data":{"name":"aLL"},"mark":{"type":"line","strokeWidth":2.5}},
{"data":{"name":"aLP"},"mark":{"type":"point","filled":false,"opacity":1,"size":36,"strokeWidth":2}}]},
{"data":{"name":"aLT"},"mark":{"type":"text","fontSize":15.8},"encoding":{"text":{"field":"t"}}},
{"data":{"name":"aLI"},"mark":{"type":"text","fontSize":15.8,"fontStyle":"italic"},"encoding":{"text":{"field":"t"}}},
{"data":{"name":"aT"},"mark":{"type":"text","align":"center","fontSize":18},"encoding":{"text":{"field":"t"}}},
{"data":{"name":"aL"},"mark":{"type":"text","fontSize":30,"fontWeight":"bold"},"encoding":{"text":{"field":"t"}}}]},
{"encoding":{"x":{"field":"x","type":"quantitative","scale":{"domain":[0.3425,4.47],"range":[397,562],"padding":0},"axis":{"orient":"bottom","offset":-1007.3,"values":[1,2,3,4],"labels":false,"title":null}},"y":{"field":"y","type":"quantitative","scale":{"domain":[0,80],"range":[205.7,76]},"axis":{"orient":"left","offset":-397,"values":[0,20,40,60,80],"title":["Time in target","quadrant (%)"],"titleLineHeight":21,"titleX":-58,"titleY":137}}},
"layer":[
{"data":{"name":"bB"},"mark":{"type":"bar","orient":"vertical","width":25,"stroke":"black","strokeWidth":2},"encoding":{"color":{"field":"g","type":"nominal","legend":null,"scale":{"domain":["a","b","c","d"],"range":["#ef7f7f","#009fe3","#dfa3c9","#efe732"]}}}},
{"data":{"name":"bB"},"mark":{"type":"errorbar","color":"black","ticks":{"size":14,"thickness":2,"color":"black"},"rule":{"strokeWidth":2,"color":"black"}},"encoding":{"yError":{"field":"e"}}},
{"data":{"name":"bD"},"mark":{"type":"point","filled":false,"opacity":1,"color":"black","size":46,"strokeWidth":2.1}},
{"data":{"name":"bK"},"mark":{"type":"line","color":"black","strokeWidth":1.8},"encoding":{"detail":{"field":"b"},"order":{"value":null}}},
{"data":{"name":"bN"},"mark":{"type":"text","align":"center","fontStyle":"italic"},"encoding":{"text":{"field":"t"}}},
{"data":{"name":"bS"},"mark":{"type":"text","align":"center","fontSize":26,"fontWeight":"bold"},"encoding":{"text":{"field":"t"}}},
{"data":{"name":"bT"},"mark":{"type":"text","align":"center","fontSize":18},"encoding":{"text":{"field":"t"}}},
{"data":{"name":"bL"},"mark":{"type":"text","fontSize":30,"fontWeight":"bold"},"encoding":{"text":{"field":"t"}}}]},
{"encoding":{"x":{"field":"x","type":"quantitative","scale":{"domain":[0.3425,4.725],"range":[650.7,826],"padding":0},"axis":{"orient":"bottom","offset":-995.7,"values":[1,2,3,4],"labels":false,"title":null}},"y":{"field":"y","type":"quantitative","scale":{"domain":[0,100],"range":[217.3,86.7]},"axis":{"orient":"left","offset":-650.7,"values":[0,20,40,60,80,100],"title":["Discrimination","index (%)"],"titleLineHeight":21,"titleX":-53,"titleY":139}}},
"layer":[
{"data":{"name":"cB"},"mark":{"type":"bar","orient":"vertical","width":25,"stroke":"black","strokeWidth":2},"encoding":{"color":{"field":"g","type":"nominal","legend":null,"scale":{"domain":["a","b","c","d"],"range":["#ef7f7f","#009fe3","#dfa3c9","#efe732"]}}}},
{"data":{"name":"cB"},"mark":{"type":"errorbar","color":"black","ticks":{"size":14,"thickness":2,"color":"black"},"rule":{"strokeWidth":2,"color":"black"}},"encoding":{"yError":{"field":"e"}}},
{"data":{"name":"cD"},"mark":{"type":"point","filled":false,"opacity":1,"color":"black","size":46,"strokeWidth":2.1}},
{"data":{"name":"cK"},"mark":{"type":"line","color":"black","strokeWidth":1.8},"encoding":{"detail":{"field":"b"},"order":{"value":null}}},
{"data":{"name":"cN"},"mark":{"type":"text","align":"center","fontStyle":"italic"},"encoding":{"text":{"field":"t"}}},
{"data":{"name":"cS"},"mark":{"type":"text","align":"center","fontSize":26,"fontWeight":"bold"},"encoding":{"text":{"field":"t"}}},
{"data":{"name":"cT"},"mark":{"type":"text","align":"center","fontSize":18},"encoding":{"text":{"field":"t"}}},
{"data":{"name":"cL"},"mark":{"type":"text","fontSize":30,"fontWeight":"bold"},"encoding":{"text":{"field":"t"}}}]},
{"encoding":{"x":{"field":"x","type":"quantitative","scale":{"domain":[-20.36,64.2],"range":[200,432.3]},"axis":{"orient":"bottom","offset":-719,"values":[-20,0,20,40,60],"labelExpr":"''+datum.value","labelFontSize":19,"title":"Time (min)","titleFontSize":18,"titlePadding":3}},"y":{"field":"y","type":"quantitative","scale":{"domain":[0,300],"range":[494,349.3]},"axis":{"orient":"left","offset":-200,"values":[0,100,200,300],"labelFontSize":19,"title":["fEPSP amplitude","(% of baseline)"],"titleFontSize":20.5,"titleLineHeight":26,"titleX":-78,"titleY":423}}},
"layer":[
{"encoding":{"color":{"field":"g","type":"nominal","legend":null,"scale":{"domain":["G","P","W"],"range":["#3cb54a","#9b59b6","#f08080"]}}},"layer":[
{"data":{"name":"dS"},"mark":{"type":"errorbar","ticks":{"size":6,"thickness":1.2},"rule":{"strokeWidth":1.2}},"encoding":{"yError":{"field":"e"}}},
{"data":{"name":"dS"},"mark":{"type":"point","filled":false,"opacity":1,"size":42,"strokeWidth":1.4}},
{"data":{"name":"dLP"},"mark":{"type":"point","filled":false,"opacity":1,"size":42,"strokeWidth":1.4}}]},
{"data":{"name":"dLT"},"mark":{"type":"text","fontSize":17},"encoding":{"text":{"field":"t"}}},
{"data":{"name":"dLI"},"mark":{"type":"text","fontSize":17,"fontStyle":"italic"},"encoding":{"text":{"field":"t"}}},
{"data":{"name":"dH"},"mark":{"type":"text","align":"center","fontSize":17.5},"encoding":{"text":{"field":"t"}}},
{"data":{"name":"dA"},"mark":{"type":"line","color":"#333","strokeWidth":1}},
{"data":{"name":"dAH"},"mark":{"type":"point","shape":"triangle-up","filled":true,"opacity":1,"color":"#333","size":14}},
{"data":{"name":"dL"},"mark":{"type":"text","fontSize":30,"fontWeight":"bold"},"encoding":{"text":{"field":"t"}}}]},
{"encoding":{"x":{"field":"x","type":"quantitative","scale":{"domain":[0.346,3.695],"range":[552.3,690.7],"padding":0},"axis":{"orient":"bottom","offset":-754.7,"values":[1,2,3],"labels":false,"title":null}},"y":{"field":"y","type":"quantitative","scale":{"domain":[0,180],"range":[458.3,329]},"axis":{"orient":"left","offset":-552.3,"values":[0,30,60,90,120,150,180],"labelFontSize":17.5,"title":["fEPSP amplitude","(% of baseline)"],"titleFontSize":19,"titleLineHeight":23,"titleX":-72,"titleY":393}}},
"layer":[
{"data":{"name":"eB"},"mark":{"type":"bar","orient":"vertical","width":26,"stroke":"black","strokeWidth":2},"encoding":{"color":{"field":"g","type":"nominal","legend":null,"scale":{"domain":["a","b","c"],"range":["#ef7f7f","#7b3f98","#6ab42d"]}}}},
{"data":{"name":"eB"},"mark":{"type":"errorbar","color":"black","ticks":{"size":14,"thickness":2,"color":"black"},"rule":{"strokeWidth":2,"color":"black"}},"encoding":{"yError":{"field":"e"}}},
{"data":{"name":"eD"},"mark":{"type":"point","filled":false,"opacity":1,"color":"black","size":46,"strokeWidth":2.1}},
{"data":{"name":"eK"},"mark":{"type":"line","color":"black","strokeWidth":1.8},"encoding":{"detail":{"field":"b"},"order":{"value":null}}},
{"data":{"name":"eN"},"mark":{"type":"text","align":"center","fontStyle":"italic"},"encoding":{"text":{"field":"t"}}},
{"data":{"name":"eS"},"mark":{"type":"text","align":"center","fontSize":26,"fontWeight":"bold"},"encoding":{"text":{"field":"t"}}},
{"data":{"name":"eL"},"mark":{"type":"text","fontSize":30,"fontWeight":"bold"},"encoding":{"text":{"field":"t"}}},
{"data":{"name":"eP"},"mark":{"type":"text","align":"right","baseline":"middle","angle":315,"fontSize":19},"encoding":{"text":{"field":"t"}}},
{"data":{"name":"eQ"},"mark":{"type":"text","align":"right","baseline":"middle","angle":315,"fontSize":19,"dx":-49.6},"encoding":{"text":{"field":"t"}}},
{"data":{"name":"eR"},"mark":{"type":"text","align":"right","baseline":"middle","angle":315,"fontSize":19,"fontStyle":"italic"},"encoding":{"text":{"field":"t"}}}]},
{"encoding":{"x":{"field":"x","type":"quantitative","scale":{"domain":[0.327,4.716],"range":[550,726],"padding":0},"axis":{"orient":"bottom","offset":-424,"values":[1,2,3,4],"labels":false,"title":null}},"y":{"field":"y","type":"quantitative","scale":{"domain":[0,140],"range":[789,653.3]},"axis":{"orient":"left","offset":-550,"values":[0,20,40,60,80,100,120,140],"title":["SYP⁺PSD95⁺ Puncta","(% of WT-scramble)"],"titleX":-72,"titleY":722.7}}},
"layer":[
{"data":{"name":"gB"},"mark":{"type":"bar","orient":"vertical","width":25,"stroke":"black","strokeWidth":2},"encoding":{"color":{"field":"g","type":"nominal","legend":null,"scale":{"domain":["a","b","c","d"],"range":["#ef7f7f","#009fe3","#dfa3c9","#efe732"]}}}},
{"data":{"name":"gB"},"mark":{"type":"errorbar","color":"black","ticks":{"size":14,"thickness":2,"color":"black"},"rule":{"strokeWidth":2,"color":"black"}},"encoding":{"yError":{"field":"e"}}},
{"data":{"name":"gD"},"mark":{"type":"point","filled":false,"opacity":1,"color":"black","size":46,"strokeWidth":2.1}},
{"data":{"name":"gK"},"mark":{"type":"line","color":"black","strokeWidth":1.8},"encoding":{"detail":{"field":"b"},"order":{"value":null}}},
{"data":{"name":"gN"},"mark":{"type":"text","align":"center","fontStyle":"italic"},"encoding":{"text":{"field":"t"}}},
{"data":{"name":"gS"},"mark":{"type":"text","align":"center","fontSize":26,"fontWeight":"bold"},"encoding":{"text":{"field":"t"}}},
{"data":{"name":"gL"},"mark":{"type":"text","fontSize":30,"fontWeight":"bold"},"encoding":{"text":{"field":"t"}}},
{"data":{"name":"gP"},"mark":{"type":"text","align":"right","baseline":"middle","angle":315,"fontSize":19},"encoding":{"text":{"field":"t"}}},
{"data":{"name":"gQ"},"mark":{"type":"text","align":"right","baseline":"middle","angle":315,"fontSize":19,"dx":-49.6},"encoding":{"text":{"field":"t"}}},
{"data":{"name":"gR"},"mark":{"type":"text","align":"right","baseline":"middle","angle":315,"fontSize":19,"fontStyle":"italic"},"encoding":{"text":{"field":"t"}}}]},
{"encoding":{"x":{"field":"x","type":"quantitative","scale":{"domain":[0.336,2.707],"range":[551,661.7],"padding":0},"axis":{"orient":"bottom","offset":-124.7,"values":[1,2],"labels":false,"title":null}},"y":{"field":"y","type":"quantitative","scale":{"domain":[0,120],"range":[1088.3,959]},"axis":{"orient":"left","offset":-551,"values":[0,20,40,60,80,100,120],"title":["Amyloid plaque load","(% area)"],"titleX":-73.5,"titleY":1021.7}}},
"layer":[
{"data":{"name":"iB"},"mark":{"type":"bar","orient":"vertical","width":29,"stroke":"black","strokeWidth":2},"encoding":{"color":{"field":"g","type":"nominal","legend":null,"scale":{"domain":["a","b"],"range":["#dfa3c9","#efe732"]}}}},
{"data":{"name":"iB"},"mark":{"type":"errorbar","color":"black","ticks":{"size":16,"thickness":2,"color":"black"},"rule":{"strokeWidth":2,"color":"black"}},"encoding":{"yError":{"field":"e"}}},
{"data":{"name":"iD"},"mark":{"type":"point","filled":false,"opacity":1,"color":"black","size":46,"strokeWidth":2.1}},
{"data":{"name":"iK"},"mark":{"type":"line","color":"black","strokeWidth":1.8},"encoding":{"detail":{"field":"b"},"order":{"value":null}}},
{"data":{"name":"iN"},"mark":{"type":"text","align":"center","fontStyle":"italic"},"encoding":{"text":{"field":"t"}}},
{"data":{"name":"iL"},"mark":{"type":"text","fontSize":30,"fontWeight":"bold"},"encoding":{"text":{"field":"t"}}},
{"data":{"name":"iP"},"mark":{"type":"text","align":"right","baseline":"middle","angle":315,"fontSize":17.8},"encoding":{"text":{"field":"t"}}},
{"data":{"name":"iQ"},"mark":{"type":"text","align":"right","baseline":"middle","angle":315,"fontSize":17.8,"dx":-46.5},"encoding":{"text":{"field":"t"}}},
{"data":{"name":"iR"},"mark":{"type":"text","align":"right","baseline":"middle","angle":315,"fontSize":17.8,"fontStyle":"italic"},"encoding":{"text":{"field":"t"}}}]},
{"encoding":{"x":{"field":"x","type":"quantitative","scale":{"domain":[75,943],"range":[115,404.3]},"axis":null},"y":{"field":"y","type":"quantitative","scale":{"domain":[155,990],"range":[621.7,900]},"axis":null}},
"layer":[
{"data":{"name":"fR"},"mark":{"type":"rect","color":"black"},"encoding":{"x2":{"field":"x2"},"y2":{"field":"y2"}}},
{"data":{"name":"fP"},"mark":{"type":"point","shape":"circle","filled":true,"opacity":1,"strokeWidth":2.5,"strokeOpacity":0.45,"fillOpacity":0.95},"encoding":{"color":{"field":"c","type":"nominal","legend":null,"scale":{"domain":["S","G"],"range":["#c4101c","#2fc24a"]}},"stroke":{"field":"c","type":"nominal","legend":null,"scale":{"domain":["S","G"],"range":["#c4101c","#2fc24a"]}},"size":{"field":"a","type":"quantitative","legend":null,"scale":{"domain":[0,160],"range":[0,160]}}}},
{"data":{"name":"fC"},"mark":{"type":"point","shape":"circle","filled":false,"opacity":1,"color":"white","size":400,"strokeWidth":2}},
{"data":{"name":"fM"},"mark":{"type":"rect","color":"white"},"encoding":{"x2":{"field":"x2"},"y2":{"field":"y2"}}},
{"data":{"name":"fR"},"mark":{"type":"rect","filled":false,"stroke":"#b5b5b5","strokeWidth":1},"encoding":{"x2":{"field":"x2"},"y2":{"field":"y2"}}},
{"data":{"name":"fT"},"mark":{"type":"text","align":"center","fontSize":18},"encoding":{"text":{"field":"t"}}},
{"data":{"name":"fA"},"mark":{"type":"text","fontSize":18},"encoding":{"text":{"field":"t"}}},
{"data":{"name":"fI"},"mark":{"type":"text","fontSize":18,"fontStyle":"italic"},"encoding":{"text":{"field":"t"}}},
{"data":{"name":"fRd"},"mark":{"type":"text","fontSize":18,"color":"#ee1c25"},"encoding":{"text":{"field":"t"}}},
{"data":{"name":"fPl"},"mark":{"type":"text","fontSize":18},"encoding":{"text":{"field":"t"}}},
{"data":{"name":"fGr"},"mark":{"type":"text","fontSize":18,"color":"#00a651"},"encoding":{"text":{"field":"t"}}},
{"data":{"name":"fSc"},"mark":{"type":"text","align":"center","fontSize":13,"color":"white"},"encoding":{"text":{"field":"t"}}},
{"data":{"name":"fSb"},"mark":{"type":"line","color":"white","strokeWidth":2.5}},
{"data":{"name":"fL"},"mark":{"type":"text","fontSize":30,"fontWeight":"bold"},"encoding":{"text":{"field":"t"}}}]},
{"encoding":{"x":{"field":"x","type":"quantitative","scale":{"domain":[70,943],"range":[113.3,404.3]},"axis":null},"y":{"field":"y","type":"quantitative","scale":{"domain":[157,587],"range":[972.3,1115.7]},"axis":null}},
"layer":[
{"data":{"name":"hR"},"mark":{"type":"rect","color":"#040604","stroke":"#b5b5b5","strokeWidth":1},"encoding":{"x2":{"field":"x2"},"y2":{"field":"y2"}}},
{"data":{"name":"hP"},"mark":{"type":"point","shape":"circle","filled":true,"opacity":1,"strokeWidth":4,"strokeOpacity":0.35,"fillOpacity":0.95},"encoding":{"color":{"field":"c","type":"nominal","legend":null,"scale":{"domain":["b","d"],"range":["#35c93c","#1a7a2a"]}},"stroke":{"field":"c","type":"nominal","legend":null,"scale":{"domain":["b","d"],"range":["#35c93c","#1a7a2a"]}},"size":{"field":"a","type":"quantitative","legend":null,"scale":{"domain":[0,160],"range":[0,160]}}}},
{"data":{"name":"hT"},"mark":{"type":"text","fontSize":18},"encoding":{"text":{"field":"t"}}},
{"data":{"name":"hI"},"mark":{"type":"text","fontSize":18,"fontStyle":"italic"},"encoding":{"text":{"field":"t"}}},
{"data":{"name":"hG"},"mark":{"type":"text","align":"center","fontSize":18,"color":"#5cb82e"},"encoding":{"text":{"field":"t"}}},
{"data":{"name":"hS"},"mark":{"type":"text","align":"center","fontSize":12,"color":"white"},"encoding":{"text":{"field":"t"}}},
{"data":{"name":"hB"},"mark":{"type":"line","color":"white","strokeWidth":2}},
{"data":{"name":"hL"},"mark":{"type":"text","fontSize":30,"fontWeight":"bold"},"encoding":{"text":{"field":"t"}}}]}
]}
